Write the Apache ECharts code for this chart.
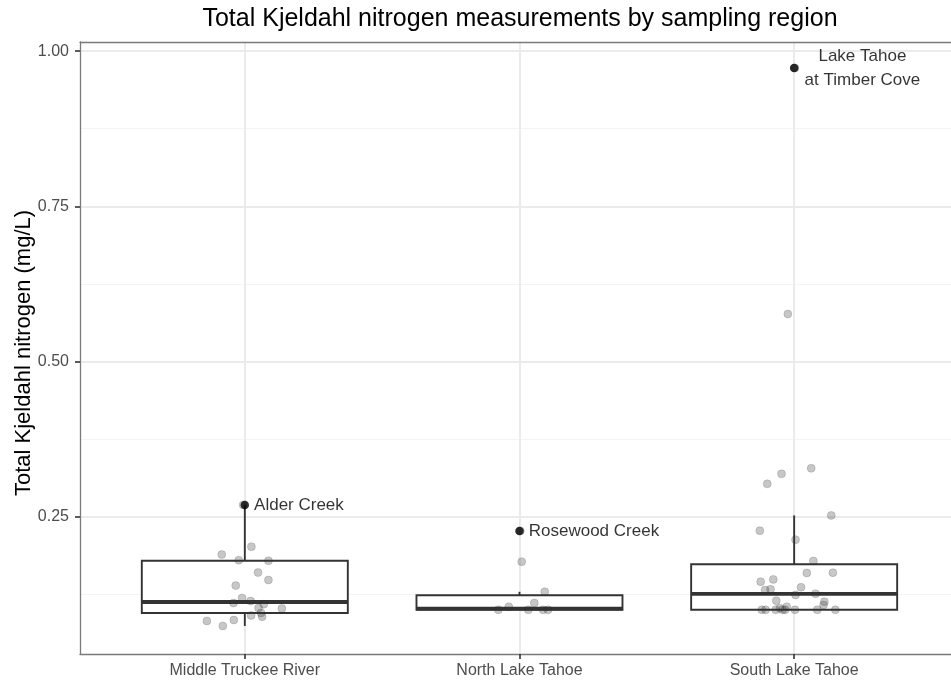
<!DOCTYPE html>
<html>
<head>
<meta charset="utf-8">
<title>Total Kjeldahl nitrogen by sampling region</title>
<script src="https://cdn.jsdelivr.net/npm/echarts@6/dist/echarts.min.js"></script>
<style>
  html, body { margin: 0; padding: 0; background: #ffffff; }
  #chart { width: 951px; height: 682px; }
</style>
</head>
<body>
<div id="chart"></div>
<script>
// Sampling regions (x categories)
const regions = ['Middle Truckee River', 'North Lake Tahoe', 'South Lake Tahoe'];

// Box statistics per region (mg/L): lower whisker, Q1, median, Q3, upper whisker
const boxLow    = [0.074, 0.100, 0.100];
const boxQ1     = [0.0949, 0.100, 0.100];
const boxMedian = [0.1126, 0.102, 0.1255];
const boxQ3     = [0.179, 0.1234, 0.1733];
const boxHigh   = [0.269, 0.129, 0.252];

// Individual measurements (mg/L) and their horizontal jitter (in category units)
const truckeeValues = [0.269, 0.2017, 0.189, 0.180, 0.179, 0.160, 0.148, 0.139, 0.119, 0.111,
                       0.114, 0.109, 0.103, 0.102, 0.095, 0.091, 0.089, 0.0836, 0.082, 0.074];
const truckeeJitter = [-0.006, 0.024, -0.084, -0.022, 0.086, 0.048, 0.086, -0.033, -0.010, -0.041,
                       0.021, 0.069, 0.050, 0.135, 0.059, 0.023, 0.063, -0.040, -0.138, -0.080];

const northValues = [0.227, 0.1776, 0.129, 0.111, 0.105, 0.100, 0.100, 0.100, 0.100];
const northJitter = [0.003, 0.008, 0.092, 0.054, -0.039, -0.077, 0.032, 0.086, 0.104];

const southValues = [0.973, 0.5765, 0.328, 0.319, 0.303, 0.252, 0.2275, 0.213, 0.1786, 0.1593,
                     0.1598, 0.149, 0.1453, 0.1363, 0.132, 0.133, 0.124, 0.126, 0.1147, 0.113,
                     0.1078, 0.105, 0.1024, 0.100, 0.100, 0.100, 0.100, 0.100, 0.100, 0.100, 0.100];
const southJitter = [0.003, -0.023, 0.062, -0.046, -0.098, 0.135, -0.125, 0.005, 0.070, 0.046,
                     0.141, -0.076, -0.122, 0.025, -0.106, -0.086, 0.005, 0.078, -0.065, 0.110,
                     0.107, -0.027, -0.052, -0.118, -0.104, -0.067, -0.042, -0.033, 0.003, 0.084, 0.150];

// Named sites highlighted on the plot
const labeledSites  = ['Alder Creek', 'Rosewood Creek', 'Lake Tahoe\nat Timber Cove'];
const labeledRegion = [0, 1, 2];
const labeledValues = [0.269, 0.227, 0.973];

// Axis ticks
const xTicks = [1, 2, 3];
const yMajorTicks = [0.25, 0.50, 0.75, 1.00];
const yMinorTicks = [0.125, 0.375, 0.625, 0.875];

const FONT = "'Liberation Sans', Arial, Helvetica, sans-serif";
const Y_MIN = 0.0288, Y_MAX = 1.0147;
const X_MIN = 0.4, X_MAX = 3.571;   // panel runs past the right edge of the canvas
const BORDER = { show: true, lineStyle: { color: '#7a7a7a', width: 1.3 } };

const boxData = regions.map((r, i) => [i + 1, boxLow[i], boxQ1[i], boxMedian[i], boxQ3[i], boxHigh[i]]);

const pointData = [];
[[truckeeValues, truckeeJitter], [northValues, northJitter], [southValues, southJitter]]
  .forEach(([vals, jit], i) => {
    vals.forEach((v, k) => pointData.push([i + 1 + jit[k], v]));
  });

const siteData = labeledSites.map((name, i) => {
  const item = { name: name, value: [labeledRegion[i] + 1, labeledValues[i]] };
  if (name.indexOf('\n') >= 0) {
    item.label = { align: 'center', distance: 64, lineHeight: 24 };
  }
  return item;
});

const BOX_HALF = 0.375;

function renderBox(params, api) {
  const c = api.value(0);
  const lo = api.value(1), q1 = api.value(2), med = api.value(3), q3 = api.value(4), hi = api.value(5);
  const pLeftTop = api.coord([c - BOX_HALF, q3]);
  const pRightBot = api.coord([c + BOX_HALF, q1]);
  const pMedL = api.coord([c - BOX_HALF, med]);
  const pMedR = api.coord([c + BOX_HALF, med]);
  const pHi = api.coord([c, hi]);
  const pQ3 = api.coord([c, q3]);
  const pQ1 = api.coord([c, q1]);
  const pLo = api.coord([c, lo]);
  const stroke = '#333333';
  return {
    type: 'group',
    children: [
      { type: 'line', shape: { x1: pHi[0], y1: pHi[1], x2: pQ3[0], y2: pQ3[1] },
        style: { stroke: stroke, lineWidth: 1.9 } },
      { type: 'line', shape: { x1: pQ1[0], y1: pQ1[1], x2: pLo[0], y2: pLo[1] },
        style: { stroke: stroke, lineWidth: 1.9 } },
      { type: 'rect',
        shape: { x: pLeftTop[0], y: pLeftTop[1],
                 width: pRightBot[0] - pLeftTop[0], height: pRightBot[1] - pLeftTop[1] },
        style: { fill: '#ffffff', stroke: stroke, lineWidth: 1.9 } },
      { type: 'line', shape: { x1: pMedL[0], y1: pMedL[1], x2: pMedR[0], y2: pMedR[1] },
        style: { stroke: stroke, lineWidth: 3.8 } }
    ]
  };
}

const chart = echarts.init(document.getElementById('chart'), null, { renderer: 'canvas' });

chart.setOption({
  animation: false,
  backgroundColor: '#ffffff',
  textStyle: { fontFamily: FONT },
  title: {
    text: 'Total Kjeldahl nitrogen measurements by sampling region',
    left: 520,
    top: 7,
    padding: 0,
    textAlign: 'center',
    textStyle: { fontFamily: FONT, fontSize: 25, fontWeight: 'normal', color: '#000000' }
  },
  grid: { left: 80, top: 42, right: 0, bottom: 28, show: false, containLabel: false, outerBoundsMode: 'none' },
  xAxis: [
    {
      type: 'value',
      min: X_MIN, max: X_MAX,
      position: 'bottom',
      axisLine: BORDER,
      axisTick: { show: true, customValues: xTicks, length: 5, lineStyle: { color: '#333333', width: 1.6 } },
      axisLabel: {
        customValues: xTicks,
        formatter: v => regions[Math.round(v) - 1] || '',
        color: '#4d4d4d', fontSize: 16, fontFamily: FONT, margin: 9
      },
      splitLine: { show: true, lineStyle: { color: '#ebebeb', width: 2 } }
    },
    {
      type: 'value',
      min: X_MIN, max: X_MAX,
      position: 'top',
      axisLine: BORDER,
      axisTick: { show: false },
      axisLabel: { show: false },
      splitLine: { show: false }
    }
  ],
  yAxis: [
    {
      type: 'value',
      min: Y_MIN, max: Y_MAX,
      position: 'left',
      name: 'Total Kjeldahl nitrogen (mg/L)',
      nameLocation: 'middle',
      nameGap: 45,
      nameMoveOverlap: false,
      nameTextStyle: { fontFamily: FONT, fontSize: 22, color: '#000000', padding: [0, 10, 0, 0] },
      axisLine: BORDER,
      axisTick: { show: true, customValues: yMajorTicks, length: 5, lineStyle: { color: '#333333', width: 1.6 } },
      axisLabel: {
        customValues: yMajorTicks,
        formatter: v => v.toFixed(2),
        color: '#4d4d4d', fontSize: 16, fontFamily: FONT, margin: 11
      },
      splitLine: { show: true, lineStyle: { color: '#ebebeb', width: 2 } }
    },
    {
      type: 'value',
      min: Y_MIN, max: Y_MAX,
      position: 'right',
      axisLine: { show: false },
      axisTick: { show: false, customValues: yMinorTicks },
      axisLabel: { show: false, customValues: yMinorTicks },
      splitLine: { show: true, lineStyle: { color: '#f4f4f4', width: 1.2 } }
    }
  ],
  series: [
    {
      type: 'custom',
      name: 'boxes',
      renderItem: renderBox,
      encode: { x: 0, y: [1, 2, 3, 4, 5] },
      data: boxData,
      z: 2
    },
    {
      type: 'scatter',
      name: 'measurements',
      data: pointData,
      symbol: 'circle',
      symbolSize: 8,
      itemStyle: { color: 'rgba(50,50,50,0.34)', borderColor: 'rgba(30,30,30,0.25)', borderWidth: 0.8 },
      z: 3
    },
    {
      type: 'scatter',
      name: 'sites',
      data: siteData,
      symbol: 'circle',
      symbolSize: 8.5,
      itemStyle: { color: '#000000' },
      label: {
        show: true,
        position: 'right',
        distance: 5,
        formatter: p => p.name,
        fontFamily: FONT,
        fontSize: 17,
        color: '#000000'
      },
      z: 4
    }
  ]
});
</script>
</body>
</html>
